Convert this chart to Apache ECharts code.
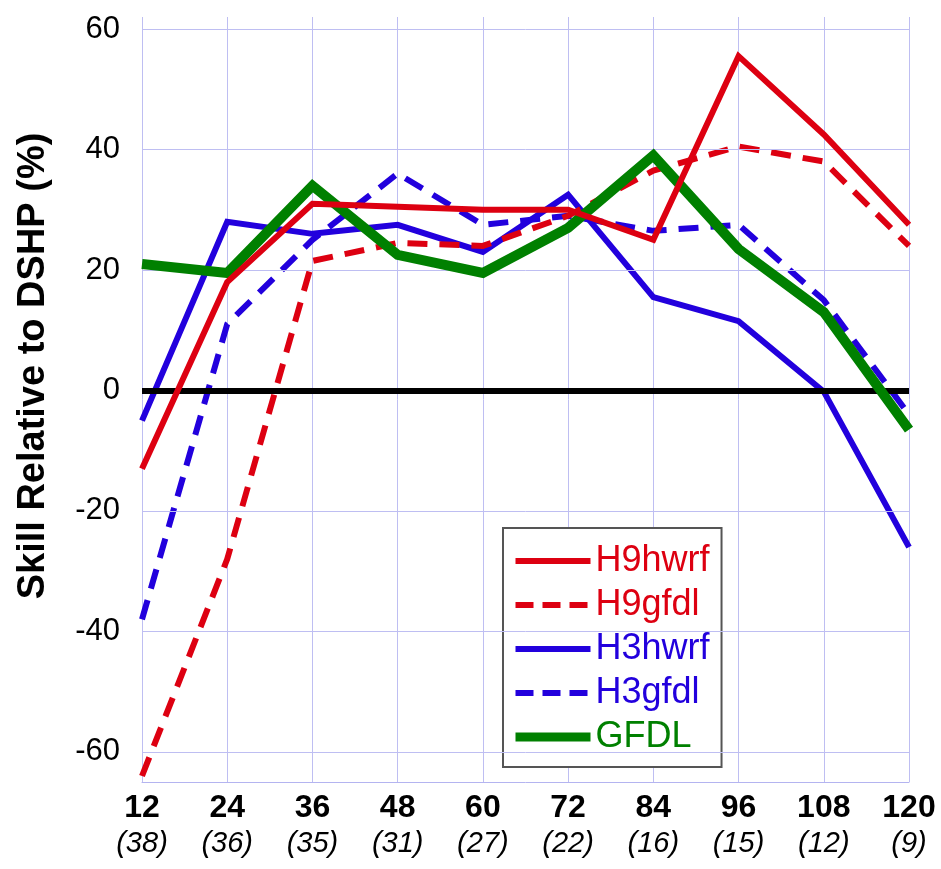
<!DOCTYPE html>
<html><head><meta charset="utf-8">
<script src="https://cdn.jsdelivr.net/npm/echarts@6/dist/echarts.min.js"></script>
<style>html,body{margin:0;padding:0;background:#fff}#c{width:941px;height:869px}</style>
</head><body><div id="c"></div>
<script>
const xTicks = [12, 24, 36, 48, 60, 72, 84, 96, 108, 120];
const caseCounts = [38, 36, 35, 31, 27, 22, 16, 15, 12, 9];
const yTicks = [-60, -40, -20, 0, 20, 40, 60];
const h9hwrf = [-13, 18, 31, 30.5, 30, 30, 25, 55.5, 42.5, 27.5];
const h9gfdl = [-64, -28, 21.5, 24.5, 24, 29, 36.5, 40.5, 38, 24];
const h3hwrf = [-5, 28, 26, 27.5, 23, 32.5, 15.5, 11.5, -0.2, -26];
const h3gfdl = [-38, 11, 25, 36, 27.5, 29, 26.5, 27.5, 15, -4];
const gfdl = [21, 19.5, 34, 22.5, 19.5, 27, 39, 23.5, 13, -6.5];

const RED = '#dd0011', BLUE = '#2200dd', GREEN = '#008000';
const FONT = '"Liberation Sans", Arial, sans-serif';
const pts = arr => xTicks.map((x, i) => [x, arr[i]]);
const dash = [20, 12];

const chart = echarts.init(document.getElementById('c'), null, {renderer: 'canvas'});
const mkLine = (name, arr, color, width, type, z) => ({
  name, type: 'line', data: pts(arr), symbol: 'none', z,
  lineStyle: {color, width, type, cap: 'butt', join: 'miter'},
  itemStyle: {color}
});
const legendItem = (name, color, width, type) => ({
  name, textStyle: {color},
  lineStyle: {color, width, type},
  itemStyle: {opacity: 0, color: 'rgba(0,0,0,0)', borderWidth: 0}
});

chart.setOption({
  animation: false,
  backgroundColor: '#fff',
  grid: {left: 142, right: 32, top: 17, bottom: 87},
  xAxis: {
    type: 'value', min: 12, max: 120, interval: 12,
    axisLine: {show: true, onZero: false, lineStyle: {color: '#b4b4f0', width: 1}},
    axisTick: {show: false},
    splitLine: {show: true, lineStyle: {color: '#bebef2', width: 1}},
    axisLabel: {
      margin: 8,
      formatter: v => {
        const i = xTicks.indexOf(v);
        return '{n|' + v + '}\n{p|(' + caseCounts[i] + ')}';
      },
      rich: {
        n: {fontFamily: FONT, fontWeight: 'bold', fontSize: 32, lineHeight: 36, color: '#000'},
        p: {fontFamily: FONT, fontStyle: 'italic', fontSize: 29, lineHeight: 36, color: '#000'}
      }
    }
  },
  yAxis: {
    type: 'value', min: -65, max: 62,
    axisLine: {show: false},
    axisTick: {show: false},
    splitLine: {show: false},
    axisLabel: {
      customValues: yTicks,
      margin: 22, fontFamily: FONT, fontSize: 31, color: '#000'
    }
  },
  legend: {
    orient: 'vertical', left: 503, top: 528,
    padding: [15, 12, 12, 8],
    itemWidth: 75, itemHeight: 10, itemGap: 8,
    borderColor: '#555', borderWidth: 2, backgroundColor: '#fff',
    textStyle: {fontFamily: FONT, fontSize: 36, lineHeight: 36},
    itemStyle: {opacity: 0},
    data: [
      legendItem('H9hwrf', RED, 6, 'solid'),
      legendItem('H9gfdl', RED, 6, [18, 9]),
      legendItem('H3hwrf', BLUE, 6, 'solid'),
      legendItem('H3gfdl', BLUE, 6, [18, 9]),
      legendItem('GFDL', GREEN, 9, 'solid')
    ]
  },
  graphic: [{
    type: 'text', x: 34, y: 366, rotation: Math.PI / 2,
    style: {text: 'Skill Relative to DSHP (%)', fontFamily: FONT, fontWeight: 'bold', fontSize: 38,
      fill: '#000', align: 'center', verticalAlign: 'middle'}
  }],
  series: [
    {
      name: 'grid', type: 'line', data: [], silent: true, z: 1,
      markLine: {
        silent: true, symbol: 'none', label: {show: false},
        lineStyle: {color: '#bebef2', width: 1, type: 'solid'},
        data: yTicks.filter(v => v !== 0).map(v => ({yAxis: v}))
      }
    },
    mkLine('H3hwrf', h3hwrf, BLUE, 6, 'solid', 3),
    mkLine('H3gfdl', h3gfdl, BLUE, 6, dash, 3),
    mkLine('H9gfdl', h9gfdl, RED, 6, dash, 4),
    mkLine('GFDL', gfdl, GREEN, 10, 'solid', 5),
    mkLine('H9hwrf', h9hwrf, RED, 6, 'solid', 6),
    {
      name: 'zero', type: 'line', data: [], silent: true, z: 8,
      markLine: {
        silent: true, symbol: 'none', label: {show: false},
        lineStyle: {color: '#000', width: 6, type: 'solid'},
        data: [{yAxis: 0}]
      }
    }
  ]
});
</script></body></html>
